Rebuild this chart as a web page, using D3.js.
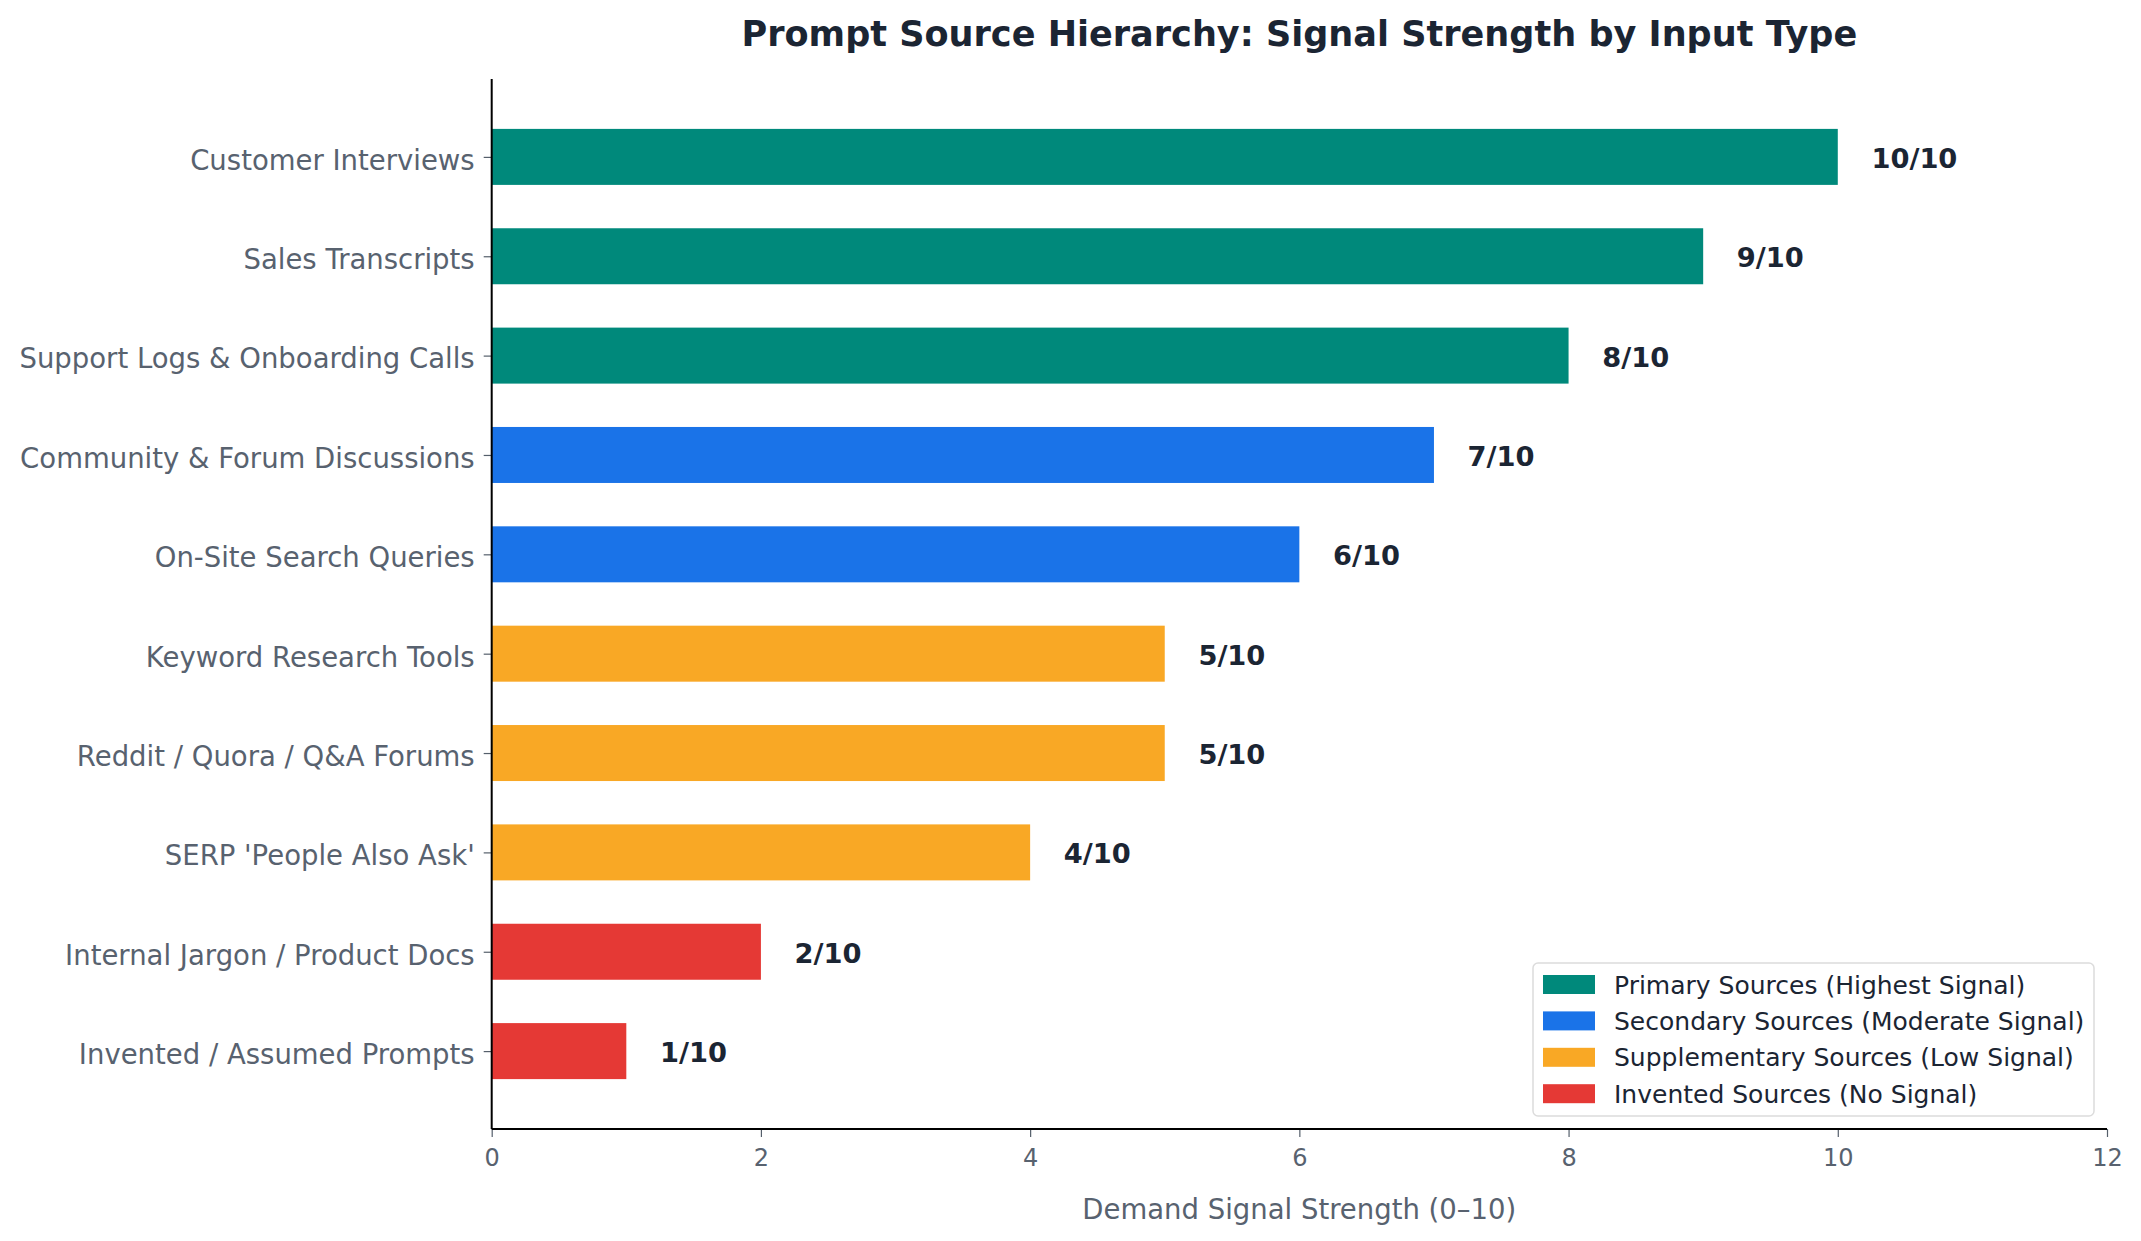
<!DOCTYPE html>
<html>
<head>
<meta charset="utf-8">
<script src="https://cdn.jsdelivr.net/npm/d3@7"></script>
<style>
  html, body { margin: 0; padding: 0; background: #ffffff; }
  svg { display: block; font-family: "DejaVu Sans", sans-serif; }
</style>
</head>
<body>
<svg id="chart" width="2141" height="1241"></svg>
<script>
// ---- data ----
const categories = [
  "Customer Interviews",
  "Sales Transcripts",
  "Support Logs & Onboarding Calls",
  "Community & Forum Discussions",
  "On-Site Search Queries",
  "Keyword Research Tools",
  "Reddit / Quora / Q&A Forums",
  "SERP 'People Also Ask'",
  "Internal Jargon / Product Docs",
  "Invented / Assumed Prompts"
];
const values = [10, 9, 8, 7, 6, 5, 5, 4, 2, 1];
const groups = ["primary", "primary", "primary", "secondary", "secondary",
                "supplementary", "supplementary", "supplementary", "invented", "invented"];
const groupKeys = ["primary", "secondary", "supplementary", "invented"];
const groupLabels = [
  "Primary Sources (Highest Signal)",
  "Secondary Sources (Moderate Signal)",
  "Supplementary Sources (Low Signal)",
  "Invented Sources (No Signal)"
];
const groupColors = ["#00897B", "#1A73E8", "#F9A825", "#E53935"];
const xTicks = [0, 2, 4, 6, 8, 10, 12];
const titleText = "Prompt Source Hierarchy: Signal Strength by Input Type";
const xLabelText = "Demand Signal Strength (0\u201310)";

// ---- layout ----
const svg = d3.select("#chart");
const W = 2141, H = 1241;
const plot = { left: 491.7, right: 2107, top: 79, bottom: 1129 };

svg.append("rect").attr("width", W).attr("height", H).attr("fill", "#ffffff");

const x = d3.scaleLinear().domain([0, 12]).range([plot.left, plot.right]);
const y = d3.scalePoint().domain(categories).range([plot.top, plot.bottom]).padding(0.784);
const color = d3.scaleOrdinal().domain(groupKeys).range(groupColors);
const barH = 56;

const rows = categories.map((c, i) => ({ cat: c, v: values[i], g: groups[i] }));

// bars
svg.append("g").selectAll("rect").data(rows).join("rect")
  .attr("x", x(0))
  .attr("y", d => y(d.cat) - barH / 2)
  .attr("width", d => x(d.v) - x(0))
  .attr("height", barH)
  .attr("fill", d => color(d.g));

// value labels
svg.append("g").selectAll("text").data(rows).join("text")
  .attr("x", d => x(d.v + 0.25))
  .attr("y", d => y(d.cat))
  .attr("dy", "0.4em")
  .attr("font-size", 27.3)
  .attr("font-weight", "bold")
  .attr("fill", "#1b2533")
  .text(d => d.v + "/10");

// y axis
const yAxis = svg.append("g")
  .attr("transform", `translate(${plot.left},0)`)
  .call(d3.axisLeft(y).tickSize(8).tickPadding(9));
yAxis.select(".domain").remove();
yAxis.selectAll(".tick line").attr("stroke", "#555f6b").attr("stroke-width", 1.2);
yAxis.selectAll(".tick text")
  .attr("font-size", 27.5)
  .attr("dy", "0.45em")
  .attr("font-family", "DejaVu Sans")
  .attr("fill", "#58626f");

// x axis
const xAxis = svg.append("g")
  .attr("transform", `translate(0,${plot.bottom})`)
  .call(d3.axisBottom(x).tickValues(xTicks).tickFormat(d3.format("d")).tickSize(8).tickPadding(12));
xAxis.select(".domain").remove();
xAxis.selectAll(".tick line").attr("stroke", "#555f6b").attr("stroke-width", 1.2);
xAxis.selectAll(".tick text")
  .attr("font-size", 24)
  .attr("font-family", "DejaVu Sans")
  .attr("fill", "#58626f");

// spines
svg.append("line").attr("x1", plot.left).attr("x2", plot.left)
  .attr("y1", plot.top).attr("y2", plot.bottom)
  .attr("stroke", "#000").attr("stroke-width", 2);
svg.append("line").attr("x1", plot.left).attr("x2", plot.right)
  .attr("y1", plot.bottom).attr("y2", plot.bottom)
  .attr("stroke", "#000").attr("stroke-width", 2);

// title
svg.append("text")
  .attr("x", (plot.left + plot.right) / 2)
  .attr("y", 33)
  .attr("dy", "0.36em")
  .attr("text-anchor", "middle")
  .attr("font-size", 35.1)
  .attr("font-weight", "bold")
  .attr("fill", "#1b2533")
  .text(titleText);

// x label
svg.append("text")
  .attr("x", (plot.left + plot.right) / 2)
  .attr("y", 1209)
  .attr("dy", "0.36em")
  .attr("text-anchor", "middle")
  .attr("font-size", 27.5)
  .attr("fill", "#58626f")
  .text(xLabelText);

// legend
const lg = svg.append("g").attr("transform", "translate(1533,963)");
lg.append("rect")
  .attr("width", 561).attr("height", 153)
  .attr("rx", 5)
  .attr("fill", "#ffffff").attr("fill-opacity", 0.9)
  .attr("stroke", "#dcdcdc").attr("stroke-width", 1.5);
const items = lg.selectAll("g.item").data(groupKeys).join("g")
  .attr("class", "item")
  .attr("transform", (d, i) => `translate(0,${21 + i * 36.4})`);
items.append("rect")
  .attr("x", 10).attr("y", -9)
  .attr("width", 52).attr("height", 19)
  .attr("fill", d => color(d));
items.append("text")
  .attr("x", 81).attr("y", 0).attr("dy", "0.38em")
  .attr("font-size", 25)
  .attr("fill", "#1b2533")
  .text((d, i) => groupLabels[i]);
</script>
</body>
</html>
